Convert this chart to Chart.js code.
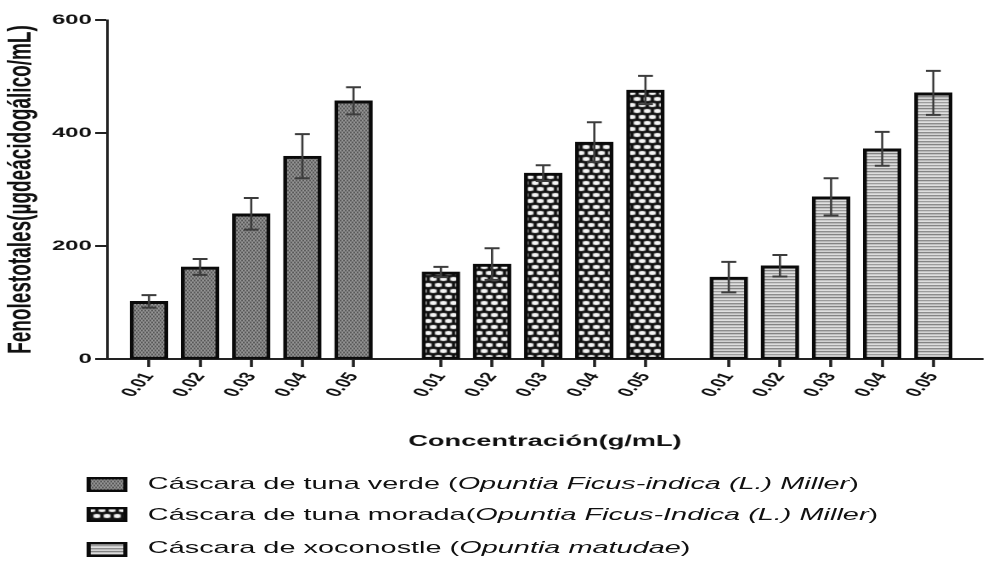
<!DOCTYPE html>
<html>
<head>
<meta charset="utf-8">
<script src="https://cdn.jsdelivr.net/npm/chart.js@4"></script>
<style>
html,body{margin:0;padding:0;background:#fff;overflow:hidden;}
#wrap{position:absolute;left:0;top:0;width:581px;height:565px;transform:scaleX(1.6988);transform-origin:0 0;}
#c{position:absolute;left:0;top:0;}
.lg{position:absolute;font-family:"Liberation Sans",Arial,sans-serif;font-size:17px;line-height:19px;color:#111;white-space:nowrap;}
.sw{position:absolute;}
</style>
</head>
<body>
<div id="wrap">
  <canvas id="c" width="581" height="565"></canvas>
  <div id="legend"></div>
</div>
<script>
// ---------- data ----------
const concentrations = ['0.01', '0.02', '0.03', '0.04', '0.05'];
const seriesPlain  = ['Cáscara de tuna verde (', 'Cáscara de tuna morada(', 'Cáscara de xoconostle ('];
const seriesItalic = ['Opuntia Ficus-indica (L.) Miller', 'Opuntia Ficus-Indica (L.) Miller', 'Opuntia matudae'];
const verde      = [102, 163, 257, 359, 457];
const verdeErr   = [11, 14, 28, 39, 24];
const morada     = [154, 168, 329, 384, 476];
const moradaErr  = [9, 28, 14, 35, 25];
const xoco       = [145, 165, 287, 372, 471];
const xocoErr    = [27, 19, 33, 30, 39];
const yTicks     = [0, 200, 400, 600];
const yTitle = 'Fenolestotales(µgdeácidogálico/mL)';
const xTitle = 'Concentración(g/mL)';

// ---------- layout helpers ----------
const groupStart = [0, 5.71, 11.34];
const allPositions = [];
groupStart.forEach(g => concentrations.forEach((c, i) => allPositions.push(g + i)));

// ---------- patterns ----------
function tile(w, h, rows) {
  const t = document.createElement('canvas');
  t.width = w; t.height = h;
  const tc = t.getContext('2d');
  for (let yy = 0; yy < h; yy++) for (let xx = 0; xx < w; xx++) {
    tc.fillStyle = rows[yy][xx];
    tc.fillRect(xx, yy, 1, 1);
  }
  return t;
}
const D = '#222', L = '#c8c8c8', M = '#808080';
const tVerde = tile(2, 4, [[D, L], [M, M], [L, D], [M, M]]);
const K = '#111', W = '#f6f6f6', G = '#999';
const tMorada = tile(6, 12, [
  [K,K,K,K,K,K],
  [K,G,W,W,G,K],
  [K,W,W,W,W,K],
  [K,W,W,W,W,K],
  [K,G,W,W,G,K],
  [K,K,K,K,K,K],
  [K,K,K,K,K,K],
  [W,G,K,K,G,W],
  [W,W,K,K,W,W],
  [W,W,K,K,W,W],
  [W,G,K,K,G,W],
  [K,K,K,K,K,K]
]);
const tXoco = tile(1, 9, [['#666'],['#c8c8c8'],['#efefef'],['#858585'],['#d0d0d0'],['#f5f5f5'],['#737373'],['#bbb'],['#e8e8e8']]);

const canvas = document.getElementById('c');
const ctx = canvas.getContext('2d');
const tiles = [tVerde, tMorada, tXoco];
const patterns = tiles.map(t => ctx.createPattern(t, 'repeat'));

// ---------- legend (HTML) ----------
const legend = document.getElementById('legend');
const lgTop = [473.6, 504.6, 537.6];
const swTop = [477, 507, 541.5];
seriesPlain.forEach((p, i) => {
  const sw = document.createElement('canvas');
  sw.className = 'sw';
  sw.width = 48; sw.height = 30;
  sw.style.width = '24px'; sw.style.height = '15px';
  sw.style.left = '51px'; sw.style.top = swTop[i] + 'px';
  const sc = sw.getContext('2d');
  sc.scale(2, 2);
  sc.fillStyle = sc.createPattern(tiles[i], 'repeat');
  sc.fillRect(0, 0, 24, 15);
  sc.strokeStyle = '#0a0a0a'; sc.lineWidth = 2.4;
  sc.strokeRect(1.2, 1.2, 21.6, 12.6);
  legend.appendChild(sw);
  const d = document.createElement('div');
  d.className = 'lg';
  d.style.left = '87px'; d.style.top = lgTop[i] + 'px';
  d.appendChild(document.createTextNode(p));
  const it = document.createElement('i');
  it.textContent = seriesItalic[i];
  d.appendChild(it);
  d.appendChild(document.createTextNode(')'));
  legend.appendChild(d);
});

// ---------- error bars plugin ----------
const errorBars = {
  id: 'errorBars',
  afterDatasetsDraw(chart) {
    const c = chart.ctx, xs = chart.scales.x, ys = chart.scales.y;
    c.save();
    c.strokeStyle = '#3c3c3c';
    chart.data.datasets.forEach(ds => {
      ds.data.forEach((pt, i) => {
        const e = ds.errors[i];
        const px = xs.getPixelForValue(pt.x);
        const yt = ys.getPixelForValue(pt.y + e);
        const yb = ys.getPixelForValue(pt.y - e);
        c.lineWidth = 1.3;
        c.beginPath(); c.moveTo(px, yt); c.lineTo(px, yb); c.stroke();
        c.lineWidth = 2;
        c.beginPath();
        c.moveTo(px - 4.4, yt); c.lineTo(px + 4.4, yt);
        c.moveTo(px - 4.4, yb); c.lineTo(px + 4.4, yb);
        c.stroke();
      });
    });
    c.restore();
  }
};

// ---------- chart ----------
Chart.defaults.font.family = '"Liberation Sans", Arial, sans-serif';
Chart.defaults.color = '#111';

const valueSets = [verde, morada, xoco];
const errSets = [verdeErr, moradaErr, xocoErr];
const datasets = valueSets.map((vals, g) => ({
  label: seriesPlain[g] + seriesItalic[g] + ')',
  data: vals.map((v, i) => ({ x: groupStart[g] + i, y: v })),
  errors: errSets[g],
  backgroundColor: patterns[g],
  borderColor: '#0a0a0a',
  borderWidth: { top: 3, left: 2.3, right: 2.3, bottom: 2 },
  borderSkipped: false,
  barThickness: 22,
  grouped: false
}));

new Chart(canvas, {
  type: 'bar',
  data: { datasets },
  plugins: [errorBars],
  options: {
    responsive: false,
    animation: false,
    devicePixelRatio: 2,
    layout: { padding: { top: 20, right: 2.4, left: 0, bottom: 0 } },
    plugins: { legend: { display: false }, tooltip: { enabled: false } },
    scales: {
      x: {
        type: 'linear',
        min: -0.82,
        max: 16.31,
        offset: false,
        afterBuildTicks: s => { s.ticks = allPositions.map(v => ({ value: v })); },
        afterFit: s => { s.height = 206; },
        ticks: {
          autoSkip: false,
          minRotation: 60,
          maxRotation: 60,
          padding: 3,
          color: '#111',
          font: { size: 13, weight: 'bold' },
          callback: (v, i) => concentrations[i % concentrations.length]
        },
        grid: { display: true, offset: false, drawOnChartArea: false, drawTicks: true, tickLength: 8, tickWidth: 1.8, tickColor: '#222' },
        border: { display: true, color: '#222', width: 2 },
        title: { display: true, text: xTitle, color: '#111', font: { size: 16, weight: 'bold' }, padding: { top: 0, bottom: 114 } }
      },
      y: {
        min: 0,
        max: 600,
        afterBuildTicks: s => { s.ticks = yTicks.map(v => ({ value: v })); },
        afterFit: s => { s.width = 63; },
        ticks: { padding: 2, color: '#111', font: { size: 14, weight: 'bold' } },
        grid: { display: true, drawOnChartArea: false, drawTicks: true, tickLength: 7, tickWidth: 2, tickColor: '#222' },
        border: { display: true, color: '#222', width: 1.5 },
        title: { display: true, text: yTitle, color: '#111', font: { size: 19, weight: 'bold' }, padding: { top: 1.5, bottom: 0 } }
      }
    }
  }
});
</script>
</body>
</html>
